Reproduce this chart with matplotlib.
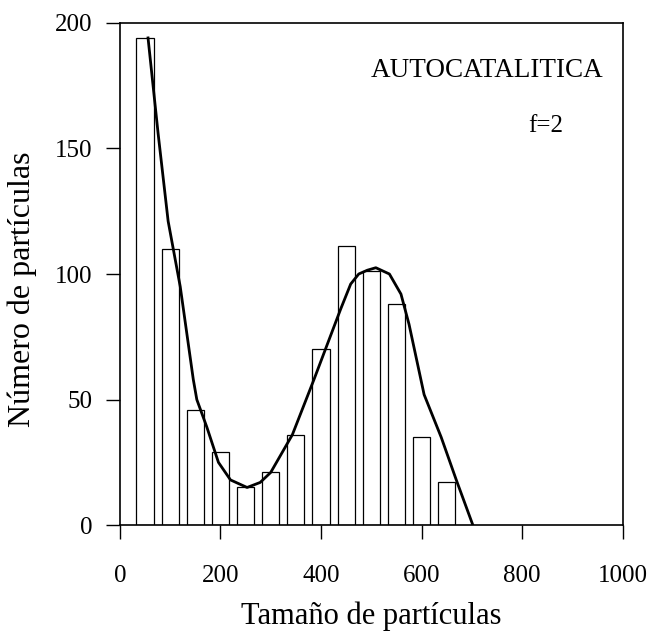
import numpy as np
import matplotlib.pyplot as plt

# histogram bins (centre of each bar) and counts
bin_centers = [50, 100, 150, 200, 250, 300, 350, 400, 450, 500, 550, 600, 650]
counts = [194, 110, 46, 29, 15, 21, 36, 70, 111, 101, 88, 35, 17]

# fitted curve
curve_x = [56, 76, 96, 120, 146, 153, 173, 196, 220, 253, 279, 300, 343, 386,
           439, 459, 475, 492, 509, 536, 559, 575, 605, 639, 669, 702]
curve_y = [194, 156, 121, 95, 58, 50, 39, 25, 18, 15, 17, 21, 36, 58,
           86, 96, 100, 101.5, 102.5, 100, 92, 80, 52, 35, 18, 0]

x_ticks = [0, 200, 400, 600, 800, 1000]
y_ticks = [0, 50, 100, 150, 200]

plt.rcParams['font.family'] = ['Liberation Serif', 'DejaVu Serif']

fig = plt.figure(figsize=(6.48, 6.35), dpi=100)
ax = fig.add_axes([0.185, 0.173, 0.776, 0.791])

ax.bar(bin_centers, counts, width=34, facecolor='white', edgecolor='black',
       linewidth=0.9, zorder=2)
ax.plot(curve_x, curve_y, color='black', linewidth=2.0, zorder=3)

ax.set_xlim(0, 1000)
ax.set_ylim(0, 200)
ax.set_xticks(x_ticks)
ax.set_yticks(y_ticks)
ax.tick_params(axis='both', direction='out', length=10, width=1.0,
               labelsize=18, colors='black')
ax.tick_params(axis='x', pad=19)
ax.tick_params(axis='y', pad=10)
for s in ax.spines.values():
    s.set_linewidth(1.2)

ax.set_xlabel('Tamaño de partículas', fontsize=22, labelpad=10)
ax.set_ylabel('Número de partículas', fontsize=23)
ax.yaxis.set_label_coords(-0.165, 0.47)

ax.text(962, 181, 'AUTOCATALITICA', fontsize=19.5, ha='right', va='center')
ax.text(812, 159, 'f=2', fontsize=18, ha='left', va='center')

fig.savefig('out.png', dpi=100)
